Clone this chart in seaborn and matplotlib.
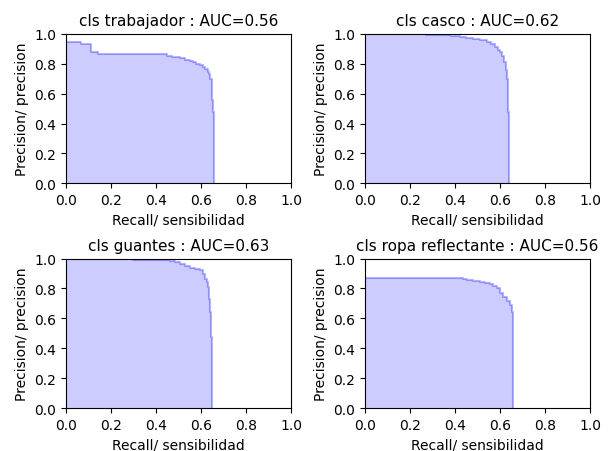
import numpy as np
import pandas as pd
import seaborn as sns
import matplotlib
matplotlib.use('Agg')
import matplotlib.pyplot as plt

clases = ['trabajador', 'casco', 'guantes', 'ropa reflectante']
auc = [0.56, 0.62, 0.63, 0.56]

recall_trabajador = [0.0, 0.065, 0.11, 0.144, 0.40, 0.447, 0.47, 0.49, 0.507, 0.53, 0.55,
                     0.566, 0.58, 0.595, 0.61, 0.62, 0.63, 0.637, 0.642, 0.647, 0.651,
                     0.655, 0.659]
precision_trabajador = [0.948, 0.93, 0.88, 0.866, 0.862, 0.854, 0.848, 0.843, 0.837, 0.828,
                        0.818, 0.81, 0.80, 0.79, 0.776, 0.762, 0.745, 0.73, 0.70, 0.63,
                        0.56, 0.475, 0.0]

recall_casco = [0.0, 0.27, 0.333, 0.38, 0.422, 0.45, 0.481, 0.51, 0.541, 0.56, 0.578,
                0.59, 0.6, 0.61, 0.618, 0.625, 0.63, 0.634, 0.637, 0.64]
precision_casco = [1.0, 0.995, 0.99, 0.985, 0.978, 0.972, 0.966, 0.956, 0.944, 0.93, 0.91,
                   0.895, 0.877, 0.85, 0.81, 0.76, 0.698, 0.6, 0.475, 0.0]

recall_guantes = [0.0, 0.09, 0.30, 0.373, 0.462, 0.485, 0.507, 0.53, 0.551, 0.575, 0.596,
                  0.608, 0.618, 0.626, 0.632, 0.637, 0.64, 0.644, 0.648]
precision_guantes = [1.0, 0.995, 0.99, 0.989, 0.985, 0.975, 0.966, 0.952, 0.94, 0.93, 0.92,
                     0.895, 0.866, 0.84, 0.81, 0.73, 0.642, 0.476, 0.0]

recall_ropa = [0.0, 0.437, 0.452, 0.48, 0.511, 0.535, 0.556, 0.57, 0.585, 0.60, 0.615,
               0.63, 0.644, 0.652, 0.656]
precision_ropa = [0.87, 0.865, 0.859, 0.852, 0.844, 0.836, 0.828, 0.815, 0.80, 0.77, 0.743,
                  0.715, 0.687, 0.642, 0.0]

curvas = [(recall_trabajador, precision_trabajador),
          (recall_casco, precision_casco),
          (recall_guantes, precision_guantes),
          (recall_ropa, precision_ropa)]

fig, axes = plt.subplots(2, 2, figsize=(6.16, 4.52), dpi=100)
fig.subplots_adjust(left=0.107, right=0.958, bottom=0.095, top=0.923,
                    wspace=0.329, hspace=0.503)

for ax, cls, a, (rec, prec) in zip(axes.flat, clases, auc, curvas):
    df = pd.DataFrame({'recall': rec, 'precision': prec})
    sns.lineplot(data=df, x='recall', y='precision', ax=ax, estimator=None, sort=False,
                 drawstyle='steps-post', color='b', alpha=0.3, linewidth=1.5)
    ax.fill_between(df['recall'], df['precision'], step='post', alpha=0.2, color='b',
                    linewidth=0)
    ax.set_xlim(0.0, 1.0)
    ax.set_ylim(0.0, 1.0)
    ax.set_xlabel('Recall/ sensibilidad')
    ax.set_ylabel('Precision/ precision')
    ax.set_title('cls {} : AUC={:.2f}'.format(cls, a), fontsize=11)

plt.savefig('out.png', dpi=100)
